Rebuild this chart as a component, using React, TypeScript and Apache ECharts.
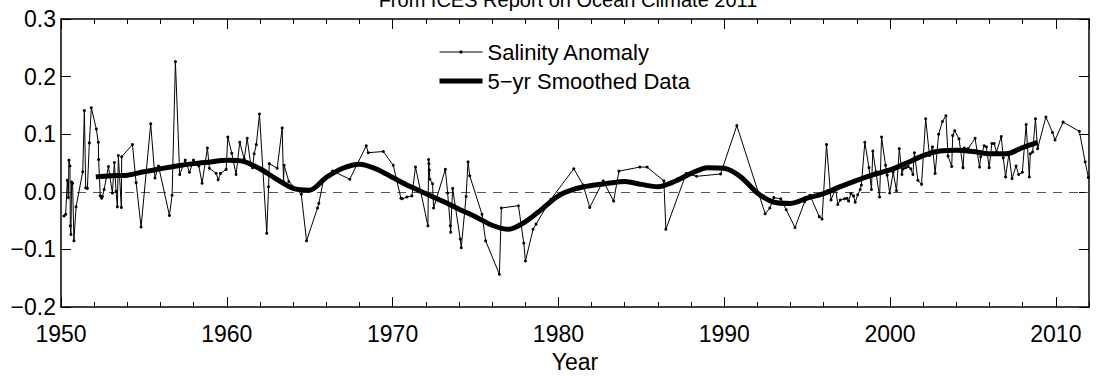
import React, { useEffect, useRef } from "react";
import * as echarts from "echarts";

const titleText = "From ICES Report on Ocean Climate 2011";
const anomalyName = "Salinity Anomaly";
const smoothName = "5\u2212yr Smoothed Data";
const xTickYears = [1950, 1960, 1970, 1980, 1990, 2000, 2010];
const yTickValues = [-0.2, -0.1, 0.0, 0.1, 0.2, 0.3];

const anomalyYears = [
  1950.18, 1950.28, 1950.38, 1950.44, 1950.48, 1950.54, 1950.56, 1950.6, 1950.64, 1950.7,
  1950.78, 1950.91, 1951.31, 1951.41, 1951.49, 1951.59, 1951.71, 1951.83, 1952.13, 1952.25,
  1952.27, 1952.37, 1952.45, 1952.5, 1952.6, 1952.86, 1953.1, 1953.22, 1953.32, 1953.4,
  1953.46, 1953.64, 1953.66, 1954.31, 1954.53, 1954.83, 1955.41, 1955.67, 1955.88, 1956.54,
  1956.7, 1956.9, 1957.16, 1957.49, 1957.75, 1957.99, 1958.31, 1958.51, 1958.83, 1958.95,
  1959.36, 1959.48, 1959.62, 1959.96, 1960.06, 1960.3, 1960.56, 1960.78, 1961.05, 1961.23,
  1961.45, 1961.55, 1961.65, 1961.78, 1961.97, 1962.41, 1962.52, 1962.56, 1963.04, 1963.34,
  1963.42, 1963.46, 1963.74, 1964.49, 1964.81, 1965.47, 1965.55, 1965.85, 1966.38, 1967.42,
  1968.41, 1968.53, 1969.44, 1970.04, 1970.5, 1970.58, 1970.86, 1971.16, 1971.38, 1972.13,
  1972.17, 1972.19, 1972.21, 1972.25, 1972.41, 1972.47, 1973.18, 1973.32, 1973.48, 1973.5,
  1973.62, 1974.08, 1974.14, 1974.43, 1974.55, 1974.65, 1975.39, 1975.61, 1976.44, 1976.56,
  1977.59, 1977.91, 1978.01, 1978.47, 1978.65, 1979.54, 1980.93, 1981.49, 1981.89, 1982.7,
  1983.33, 1983.65, 1984.91, 1985.35, 1986.36, 1986.48, 1987.71, 1988.33, 1989.78, 1990.76,
  1992.47, 1992.75, 1992.99, 1993.41, 1993.74, 1994.27, 1994.85, 1995.17, 1995.73, 1995.9,
  1996.17, 1996.44, 1996.72, 1996.85, 1997.0, 1997.26, 1997.4, 1997.5, 1997.64, 1997.8,
  1997.9, 1998.05, 1998.2, 1998.27, 1998.48, 1998.73, 1998.88, 1998.96, 1999.15, 1999.37,
  1999.49, 1999.73, 1999.83, 1999.98, 2000.19, 2000.39, 2000.56, 2000.72, 2000.8, 2000.95,
  2001.1, 2001.25, 2001.38, 2001.47, 2001.68, 2001.9, 2002.15, 2002.38, 2002.56, 2002.72,
  2002.93, 2003.16, 2003.37, 2003.5, 2003.72, 2003.78, 2003.9, 2004.16, 2004.4, 2004.48,
  2004.71, 2005.13, 2005.4, 2005.47, 2005.68, 2005.81, 2005.98, 2006.14, 2006.28, 2006.42,
  2006.71, 2006.83, 2006.97, 2007.17, 2007.36, 2007.6, 2007.76, 2007.98, 2008.21, 2008.4,
  2008.46, 2008.6, 2008.77, 2008.9, 2009.4, 2009.8, 2009.95, 2010.44, 2011.42, 2011.77,
  2011.96,
];

const anomalyValues = [
  -0.042, -0.039, 0.02, -0.01, 0.055, 0.045, -0.059, -0.074, 0.017, 0.015,
  -0.085, -0.026, 0.035, 0.141, 0.007, 0.006, 0.085, 0.146, 0.109, 0.086,
  0.056, -0.007, -0.011, -0.008, 0.004, 0.044, -0.002, 0.051, 0.001, -0.026,
  0.063, -0.027, 0.061, 0.082, 0.016, -0.061, 0.118, 0.024, 0.045, -0.041,
  -0.006, 0.226, 0.03, 0.055, 0.034, 0.055, 0.045, 0.015, 0.076, 0.041,
  0.032, 0.021, 0.032, 0.039, 0.095, 0.067, 0.03, 0.086, 0.057, 0.093,
  0.046, 0.042, 0.066, 0.082, 0.135, -0.072, 0.009, 0.049, 0.041, 0.111,
  0.018, 0.046, 0.018, -0.004, -0.085, -0.028, -0.02, 0.023, 0.036, 0.022,
  0.08, 0.068, 0.07, 0.046, -0.011, -0.012, -0.009, -0.007, 0.043, -0.059,
  0.056, 0.049, 0.038, 0.022, 0.014, -0.028, 0.039, -0.002, -0.059, -0.07,
  0.006, -0.082, -0.097, -0.008, 0.052, 0.028, -0.039, -0.085, -0.143, -0.028,
  -0.024, -0.089, -0.12, -0.065, -0.056, -0.013, 0.04, 0.012, -0.027, 0.019,
  -0.016, 0.036, 0.043, 0.043, 0.019, -0.065, 0.032, 0.027, 0.031, 0.115,
  -0.038, -0.028, -0.01, -0.012, -0.031, -0.062, -0.017, -0.006, -0.043, -0.047,
  0.082, -0.014, 0.006, -0.022, -0.014, -0.012, -0.011, -0.016, -0.003, -0.007,
  -0.018, -0.005, 0.004, 0.012, 0.086, 0.042, 0.004, 0.071, 0.035, -0.009,
  0.095, 0.046, 0.029, -0.002, 0.034, 0.002, 0.075, 0.03, 0.04, 0.042,
  0.044, 0.04, 0.03, 0.068, 0.02, 0.013, 0.127, 0.063, 0.078, 0.032,
  0.1, 0.122, 0.132, 0.062, 0.044, 0.098, 0.106, 0.092, 0.042, 0.076,
  0.075, 0.093, 0.043, 0.061, 0.08, 0.078, 0.042, 0.084, 0.084, 0.069,
  0.096, 0.059, 0.026, 0.066, 0.023, 0.045, 0.03, 0.034, 0.117, 0.026,
  0.066, 0.069, 0.127, 0.075, 0.13, 0.103, 0.09, 0.121, 0.105, 0.052,
  0.025,
];

const smoothYears = [
  1952.1, 1953, 1954, 1955, 1956, 1957, 1958, 1959, 1960, 1961,
  1962, 1963, 1964, 1965, 1966, 1967, 1968, 1969, 1970, 1971,
  1972, 1973, 1974, 1975, 1976, 1977, 1978, 1979, 1980, 1981,
  1982, 1983, 1984, 1985, 1986, 1987, 1988, 1989, 1990, 1991,
  1992, 1993, 1994, 1995, 1996, 1997, 1998, 1999, 2000, 2001,
  2002, 2003, 2004, 2005, 2006, 2007, 2008, 2008.9,
];

const smoothValues = [
  0.026, 0.028, 0.029, 0.035, 0.04, 0.045, 0.049, 0.052, 0.055, 0.053,
  0.04, 0.022, 0.006, 0.003, 0.025, 0.041, 0.048, 0.04, 0.025, 0.01,
  -0.003, -0.016, -0.03, -0.043, -0.058, -0.065, -0.052, -0.03, -0.007, 0.005,
  0.011, 0.015, 0.018, 0.013, 0.009, 0.018, 0.032, 0.042, 0.041, 0.026,
  -0.002, -0.018, -0.02, -0.011, -0.003, 0.009, 0.02, 0.03, 0.038, 0.05,
  0.063, 0.071, 0.072, 0.07, 0.066, 0.066, 0.077, 0.086,
];

const FONT = "'Liberation Sans', Arial, Helvetica, sans-serif";

export default function App() {
  const ref = useRef<HTMLDivElement>(null);

  useEffect(() => {
    if (!ref.current) return;
    const chart = echarts.init(ref.current, undefined, { renderer: "svg" });

    const xMin = xTickYears[0];
    const xMax = 2012;
    const yMin = yTickValues[0];
    const yMax = yTickValues[yTickValues.length - 1];

    const lineStyle = { color: "#000", width: 1.5 };
    const tickStyle = { color: "#000", width: 1 };

    const xBase = {
      type: "value" as const,
      min: xMin,
      max: xMax,
      splitLine: { show: false },
    };

    const xLabelFmt = (v: number) =>
      xTickYears.indexOf(Math.round(v)) >= 0 && Math.abs(v - Math.round(v)) < 1e-6 ? String(Math.round(v)) : "";

    const yLabelFmt = (v: number) => {
      const s = (Math.abs(v) < 1e-9 ? 0 : v).toFixed(1);
      return s.replace("-", "\u2212");
    };

    const option: any = {
      animation: false,
      textStyle: { fontFamily: FONT },
      grid: { left: 61, right: 9, top: 19, bottom: 65, containLabel: false },
      graphic: [
        {
          type: "text",
          x: 568,
          y: 0,
          style: {
            text: titleText,
            font: `20px ${FONT}`,
            fill: "#000",
            align: "center",
            verticalAlign: "middle",
          },
        },
      ],
      legend: {
        orient: "vertical",
        left: 437,
        top: 41,
        padding: 0,
        itemWidth: 43,
        itemHeight: 4,
        itemGap: 7,
        selectedMode: false,
        lineStyle: { width: "inherit" },
        textStyle: { fontSize: 22, color: "#000", fontFamily: FONT },
        data: [anomalyName, smoothName],
      },
      xAxis: [
        {
          ...xBase,
          position: "bottom",
          interval: 10,
          axisLine: { show: true, onZero: false, lineStyle },
          axisTick: { show: true, inside: true, length: 10, lineStyle: tickStyle },
          axisLabel: {
            show: true,
            fontSize: 23,
            color: "#000",
            margin: 15,
            fontFamily: FONT,
            showMaxLabel: false,
            formatter: xLabelFmt,
          },
          name: "Year",
          nameLocation: "middle",
          nameGap: 40,
          nameTextStyle: { fontSize: 23, color: "#000", fontFamily: FONT },
        },
        {
          ...xBase,
          position: "bottom",
          interval: 2,
          axisLine: { show: false, onZero: false },
          axisTick: { show: true, inside: true, length: 5, lineStyle: tickStyle },
          axisLabel: { show: false },
        },
        {
          ...xBase,
          position: "top",
          interval: 10,
          axisLine: { show: true, onZero: false, lineStyle },
          axisTick: { show: true, inside: true, length: 10, lineStyle: tickStyle },
          axisLabel: { show: false },
        },
        {
          ...xBase,
          position: "top",
          interval: 2,
          axisLine: { show: false, onZero: false },
          axisTick: { show: true, inside: true, length: 5, lineStyle: tickStyle },
          axisLabel: { show: false },
        },
      ],
      yAxis: [
        {
          type: "value",
          position: "left",
          min: yMin,
          max: yMax,
          interval: 0.1,
          splitLine: { show: false },
          axisLine: { show: true, onZero: false, lineStyle },
          axisTick: { show: true, inside: true, length: 10, lineStyle: tickStyle },
          axisLabel: {
            show: true,
            fontSize: 23,
            color: "#000",
            margin: 5,
            fontFamily: FONT,
            formatter: yLabelFmt,
          },
        },
        {
          type: "value",
          position: "right",
          min: yMin,
          max: yMax,
          interval: 0.1,
          splitLine: { show: false },
          axisLine: { show: true, onZero: false, lineStyle },
          axisTick: { show: true, inside: true, length: 10, lineStyle: tickStyle },
          axisLabel: { show: false },
        },
      ],
      series: [
        {
          name: anomalyName,
          type: "line",
          xAxisIndex: 0,
          yAxisIndex: 0,
          data: anomalyYears.map((y, i) => [y, anomalyValues[i]]),
          showSymbol: true,
          symbol: "circle",
          symbolSize: 3,
          lineStyle: { color: "#000", width: 1 },
          itemStyle: { color: "#000" },
          z: 3,
          markLine: {
            silent: true,
            symbol: ["none", "none"],
            label: { show: false },
            lineStyle: { type: [9, 7], color: "#555", width: 1 },
            data: [{ yAxis: 0 }],
            z: 1,
          },
        },
        {
          name: smoothName,
          type: "line",
          xAxisIndex: 0,
          yAxisIndex: 0,
          data: smoothYears.map((y, i) => [y, smoothValues[i]]),
          showSymbol: false,
          symbol: "none",
          smooth: 0.3,
          lineStyle: { color: "#000", width: 5 },
          itemStyle: { color: "#000" },
          z: 4,
        },
      ],
    };

    chart.setOption(option);
    return () => chart.dispose();
  }, []);

  return (
    <div
      ref={ref}
      style={{ position: "fixed", left: 0, top: 0, width: 1098, height: 378, background: "#fff" }}
    />
  );
}
